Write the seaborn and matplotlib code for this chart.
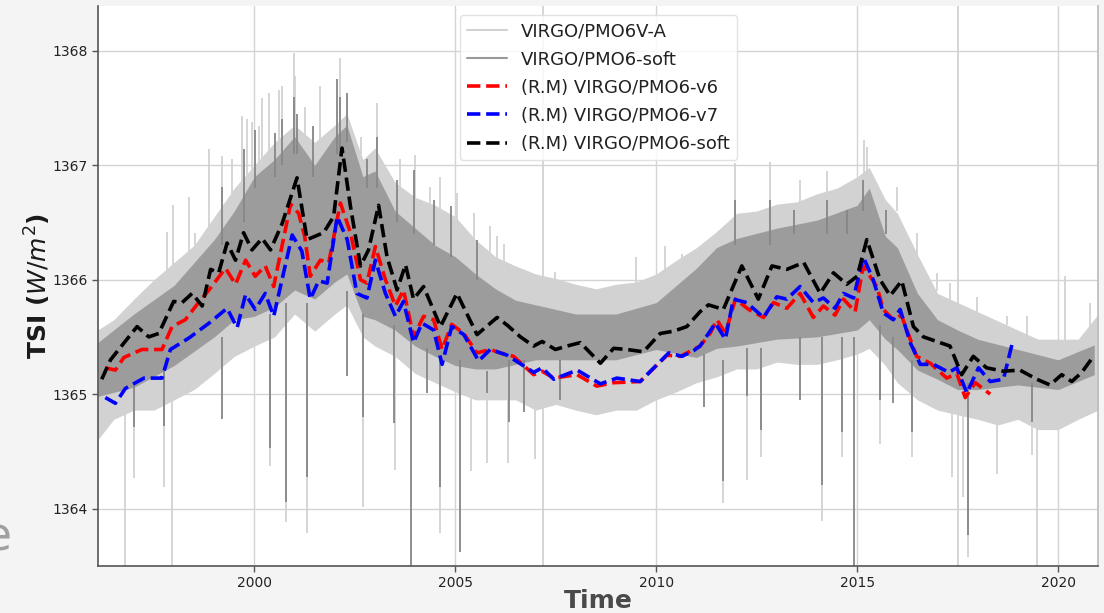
import matplotlib
matplotlib.use("Agg")
import matplotlib.pyplot as plt
from matplotlib.lines import Line2D
import seaborn as sns

# --- VIRGO/PMO6V-A daily TSI: dense envelope (lower / upper) -------------
va_years = [1996.1, 1996.5, 1997.0, 1997.5, 1998.0, 1998.5, 1999.0, 1999.5,
            2000.0, 2000.5, 2001.0, 2001.5, 2002.0, 2002.3, 2002.7, 2003.0,
            2003.5, 2004.0, 2004.5, 2005.0, 2005.5, 2006.0, 2006.5, 2007.0,
            2007.5, 2008.0, 2008.5, 2009.0, 2009.5, 2010.0, 2010.5, 2011.0,
            2011.5, 2012.0, 2012.5, 2013.0, 2013.5, 2014.0, 2014.5, 2015.0,
            2015.3, 2015.7, 2016.0, 2016.5, 2017.0, 2017.5, 2018.0, 2018.5,
            2019.0, 2019.5, 2020.0, 2020.5, 2021.0]
va_upper = [1365.56, 1365.65, 1365.83, 1366.00, 1366.15, 1366.30, 1366.55, 1366.80,
            1367.00, 1367.20, 1367.35, 1367.20, 1367.35, 1367.45, 1367.05, 1367.15,
            1366.85, 1366.72, 1366.65, 1366.55, 1366.35, 1366.20, 1366.12, 1366.05,
            1366.01, 1365.96, 1365.92, 1365.96, 1365.98, 1366.05, 1366.17, 1366.28,
            1366.42, 1366.58, 1366.60, 1366.66, 1366.68, 1366.75, 1366.80, 1366.90,
            1366.98, 1366.70, 1366.58, 1366.22, 1365.88, 1365.80, 1365.72, 1365.64,
            1365.56, 1365.48, 1365.48, 1365.48, 1365.70]
va_lower = [1364.60, 1364.78, 1364.86, 1364.86, 1364.95, 1365.04, 1365.18, 1365.33,
            1365.42, 1365.50, 1365.70, 1365.55, 1365.70, 1365.78, 1365.50, 1365.42,
            1365.33, 1365.18, 1365.10, 1365.02, 1364.95, 1364.95, 1364.95, 1364.86,
            1364.91, 1364.86, 1364.82, 1364.86, 1364.86, 1364.95, 1365.02, 1365.10,
            1365.15, 1365.22, 1365.22, 1365.28, 1365.26, 1365.26, 1365.30, 1365.35,
            1365.40, 1365.25, 1365.10, 1364.95, 1364.86, 1364.82, 1364.78, 1364.73,
            1364.78, 1364.69, 1364.69, 1364.78, 1364.86]

# --- VIRGO/PMO6-soft daily TSI: dense envelope ------------------------------
soft_years = [1996.1, 1997.0, 1998.0, 1999.0, 1999.5, 2000.0, 2000.5, 2001.0,
              2001.5, 2002.0, 2002.3, 2002.7, 2003.0, 2003.5, 2004.0, 2004.5,
              2005.0, 2005.5, 2006.0, 2006.5, 2007.0, 2008.0, 2009.0, 2010.0,
              2011.0, 2011.5, 2012.0, 2013.0, 2014.0, 2015.0, 2015.3, 2015.7,
              2016.0, 2016.5, 2017.0, 2017.5, 2018.0, 2019.0, 2020.0, 2020.9]
soft_upper = [1365.45, 1365.70, 1365.95, 1366.35, 1366.60, 1366.90, 1367.05, 1367.25,
              1367.00, 1367.25, 1367.35, 1366.90, 1366.95, 1366.60, 1366.45, 1366.30,
              1366.20, 1366.05, 1365.92, 1365.82, 1365.78, 1365.70, 1365.70, 1365.80,
              1366.10, 1366.28, 1366.36, 1366.45, 1366.52, 1366.65, 1366.80, 1366.38,
              1366.28, 1365.88, 1365.65, 1365.56, 1365.48, 1365.39, 1365.30, 1365.43]
soft_lower = [1364.98, 1365.06, 1365.25, 1365.50, 1365.65, 1365.68, 1365.76, 1365.91,
              1365.83, 1365.98, 1366.05, 1365.68, 1365.65, 1365.56, 1365.42, 1365.33,
              1365.25, 1365.22, 1365.22, 1365.26, 1365.30, 1365.30, 1365.30, 1365.39,
              1365.32, 1365.40, 1365.42, 1365.48, 1365.50, 1365.56, 1365.65, 1365.48,
              1365.39, 1365.21, 1365.13, 1365.04, 1365.04, 1365.08, 1365.04, 1365.17]

# --- isolated excursions of the daily series (year, low, high) -----------------
va_spike_year = [1996.77, 1997.00, 1997.74, 1997.96, 2000.40, 2000.79, 2001.31, 2002.69,
                 2003.50, 2004.63, 2005.38, 2005.78, 2006.32, 2006.99, 2007.18, 2011.66,
                 2012.27, 2012.60, 2014.12, 2014.62, 2015.57, 2016.36, 2017.35, 2017.51,
                 2017.64, 2017.75, 2018.47, 2019.36, 2019.47,
                 1997.83, 1997.98, 1998.37, 1998.53, 1998.87, 1999.20, 1999.45, 1999.70,
                 1999.82, 1999.94, 2000.11, 2000.20, 2000.36, 2000.60, 2000.69, 2000.98,
                 2001.02, 2001.27, 2001.64, 2002.14, 2002.64, 2003.05, 2003.63, 2004.00,
                 2004.38, 2004.63, 2005.04, 2005.46, 2005.87, 2006.04, 2006.20, 2006.45,
                 2007.49, 2009.50, 2010.22, 2010.64, 2011.26, 2011.97, 2012.84, 2013.58,
                 2014.25, 2015.16, 2015.24, 2015.99, 2016.48, 2016.98, 2017.31, 2017.97,
                 2018.72, 2019.22, 2020.17, 2020.80]
va_spike_low = [1363.0, 1364.27, 1364.19, 1363.0, 1364.37, 1363.88, 1363.79, 1364.01,
                1364.34, 1363.79, 1364.33, 1364.40, 1364.40, 1364.43, 1362.0, 1364.05,
                1364.25, 1364.45, 1363.89, 1364.45, 1364.56, 1364.45, 1364.28, 1362.0,
                1364.10, 1363.58, 1364.30, 1364.47, 1363.0,
                1366.0, 1366.1, 1366.2, 1366.2, 1366.4, 1366.5, 1366.7, 1366.8,
                1366.9, 1366.9, 1366.9, 1367.0, 1367.1, 1367.1, 1367.2, 1367.3,
                1367.3, 1367.2, 1367.2, 1367.3, 1367.1, 1367.1, 1366.8, 1366.7,
                1366.6, 1366.6, 1366.5, 1366.3, 1366.2, 1366.1, 1366.1, 1366.1,
                1366.0, 1365.9, 1366.0, 1366.1, 1366.2, 1366.5, 1366.6, 1366.6,
                1366.7, 1366.9, 1366.9, 1366.6, 1366.2, 1365.9, 1365.8, 1365.7,
                1365.6, 1365.5, 1365.4, 1365.5]
va_spike_high = [1365.0, 1365.0, 1365.1, 1365.1, 1365.6, 1365.7, 1365.7, 1365.6,
                 1365.4, 1365.2, 1365.0, 1365.0, 1365.0, 1364.9, 1370.0, 1365.2,
                 1365.3, 1365.3, 1365.3, 1365.4, 1365.4, 1365.0, 1364.9, 1370.0,
                 1364.9, 1364.9, 1364.8, 1364.8, 1364.7,
                 1366.42, 1366.65, 1366.72, 1366.41, 1367.14, 1367.08, 1367.05, 1367.43,
                 1367.40, 1367.38, 1367.34, 1367.59, 1367.63, 1367.66, 1367.69, 1367.98,
                 1367.78, 1367.51, 1367.69, 1367.94, 1367.25, 1367.54, 1367.05, 1367.09,
                 1366.81, 1366.90, 1366.76, 1366.58, 1366.47, 1366.38, 1366.31, 1366.12,
                 1366.07, 1366.20, 1366.29, 1366.22, 1366.29, 1367.02, 1367.03, 1366.87,
                 1366.95, 1367.22, 1367.16, 1366.81, 1366.41, 1366.06, 1365.97, 1365.85,
                 1365.68, 1365.68, 1366.03, 1365.80]

soft_spike_year = [1997.00, 1997.74, 1999.20, 2000.40, 2000.79, 2001.31, 2002.31, 2002.69,
                   2003.47, 2003.90, 2004.30, 2004.63, 2005.12, 2005.79, 2006.33, 2006.70,
                   2007.61, 2011.18, 2011.66, 2012.25, 2012.60, 2013.58, 2014.12, 2014.62,
                   2014.91, 2015.57, 2015.90, 2016.36, 2017.75, 2019.36,
                   1999.20, 1999.73, 2000.02, 2000.52, 2000.69, 2000.98, 2001.05, 2001.47,
                   2002.06, 2002.14, 2002.31, 2002.80, 2003.05, 2003.55, 2003.96, 2004.46,
                   2004.88, 2005.54, 2011.97, 2012.84, 2013.42, 2014.25, 2014.74, 2015.15,
                   2015.73]
soft_spike_low = [1364.71, 1364.72, 1364.78, 1364.53, 1364.06, 1364.28, 1365.16, 1364.80,
                  1364.75, 1363.0, 1365.01, 1364.19, 1363.62, 1365.01, 1364.76, 1364.84,
                  1364.95, 1364.89, 1364.24, 1364.98, 1364.69, 1364.95, 1364.21, 1364.67,
                  1363.0, 1364.95, 1364.92, 1364.67, 1363.77, 1364.76,
                  1366.3, 1366.5, 1366.8, 1366.9, 1367.0, 1367.1, 1367.1, 1366.9,
                  1367.1, 1367.1, 1367.2, 1366.8, 1366.8, 1366.5, 1366.4, 1366.3,
                  1366.2, 1366.0, 1366.3, 1366.3, 1366.4, 1366.4, 1366.4, 1366.6,
                  1366.4]
soft_spike_high = [1365.1, 1365.2, 1365.5, 1365.7, 1365.8, 1365.8, 1365.9, 1365.7,
                   1365.6, 1365.5, 1365.4, 1365.3, 1365.3, 1365.2, 1365.3, 1365.3,
                   1365.3, 1365.35, 1365.3, 1365.4, 1365.4, 1365.5, 1365.5, 1365.5,
                   1365.5, 1365.6, 1365.5, 1365.3, 1365.1, 1365.1,
                   1366.81, 1367.14, 1367.31, 1367.28, 1367.40, 1367.60, 1367.45, 1367.34,
                   1367.75, 1367.60, 1367.63, 1367.05, 1367.25, 1366.87, 1366.96, 1366.70,
                   1366.64, 1366.35, 1366.70, 1366.70, 1366.61, 1366.70, 1366.61, 1366.87,
                   1366.61]

# --- running means -------------------------------------------------------------
rm_v6_year = [1996.29, 1996.54, 1996.75, 1997.20, 1997.70, 1997.95, 1998.28, 1998.61,
              1998.87, 1999.28, 1999.53, 1999.78, 2000.02, 2000.27, 2000.48, 2000.90,
              2001.10, 2001.25, 2001.39, 2001.64, 2001.85, 2002.14, 2002.39, 2002.64,
              2002.80, 2003.01, 2003.26, 2003.51, 2003.71, 2003.96, 2004.21, 2004.46,
              2004.67, 2004.91, 2005.21, 2005.54, 2005.87, 2006.12, 2006.45, 2006.95,
              2007.16, 2007.45, 2008.03, 2008.52, 2008.94, 2009.60, 2010.27, 2010.60,
              2010.93, 2011.09, 2011.34, 2011.51, 2011.72, 2011.97, 2012.30, 2012.67,
              2012.92, 2013.25, 2013.58, 2013.91, 2014.16, 2014.45, 2014.66, 2014.95,
              2015.15, 2015.49, 2015.65, 2015.90, 2016.10, 2016.48, 2016.82, 2017.23,
              2017.48, 2017.69, 2017.94, 2018.31]
rm_v6_tsi = [1365.23, 1365.21, 1365.32, 1365.39, 1365.39, 1365.59, 1365.65, 1365.80,
             1365.91, 1366.10, 1365.96, 1366.17, 1366.03, 1366.12, 1365.94, 1366.66,
             1366.58, 1366.38, 1366.03, 1366.17, 1366.15, 1366.67, 1366.41, 1366.00,
             1365.97, 1366.29, 1366.00, 1365.77, 1365.91, 1365.50, 1365.68, 1365.65,
             1365.39, 1365.61, 1365.53, 1365.36, 1365.39, 1365.36, 1365.33, 1365.17,
             1365.20, 1365.14, 1365.17, 1365.07, 1365.10, 1365.11, 1365.34, 1365.33,
             1365.39, 1365.42, 1365.53, 1365.65, 1365.53, 1365.83, 1365.74, 1365.67,
             1365.80, 1365.75, 1365.88, 1365.67, 1365.77, 1365.69, 1365.83, 1365.72,
             1366.12, 1365.94, 1365.74, 1365.65, 1365.69, 1365.33, 1365.27, 1365.14,
             1365.18, 1364.97, 1365.10, 1365.00]

rm_v7_year = [1996.29, 1996.54, 1996.79, 1997.25, 1997.70, 1997.91, 1998.37, 1998.87,
              1999.32, 1999.57, 1999.78, 2000.02, 2000.27, 2000.48, 2000.94, 2001.18,
              2001.39, 2001.60, 2001.81, 2002.06, 2002.31, 2002.55, 2002.80, 2003.01,
              2003.26, 2003.51, 2003.71, 2003.96, 2004.17, 2004.46, 2004.67, 2004.91,
              2005.21, 2005.58, 2005.87, 2006.29, 2006.95, 2007.16, 2007.45, 2008.03,
              2008.61, 2009.02, 2009.60, 2010.31, 2010.64, 2010.93, 2011.09, 2011.47,
              2011.72, 2011.92, 2012.25, 2012.67, 2013.00, 2013.25, 2013.58, 2013.91,
              2014.16, 2014.45, 2014.66, 2014.91, 2015.15, 2015.40, 2015.65, 2015.90,
              2016.07, 2016.32, 2016.57, 2016.90, 2017.28, 2017.48, 2017.73, 2018.02,
              2018.31, 2018.64, 2018.85]
rm_v7_tsi = [1364.97, 1364.92, 1365.05, 1365.14, 1365.14, 1365.39, 1365.49, 1365.62,
             1365.75, 1365.58, 1365.87, 1365.74, 1365.88, 1365.68, 1366.39, 1366.25,
             1365.83, 1365.99, 1365.97, 1366.55, 1366.35, 1365.88, 1365.84, 1366.17,
             1365.88, 1365.68, 1365.81, 1365.45, 1365.62, 1365.56, 1365.26, 1365.59,
             1365.52, 1365.29, 1365.39, 1365.34, 1365.19, 1365.23, 1365.13, 1365.21,
             1365.09, 1365.14, 1365.11, 1365.36, 1365.33, 1365.38, 1365.42, 1365.62,
             1365.48, 1365.83, 1365.80, 1365.67, 1365.85, 1365.83, 1365.94, 1365.80,
             1365.84, 1365.75, 1365.88, 1365.84, 1366.20, 1366.00, 1365.71, 1365.65,
             1365.74, 1365.45, 1365.26, 1365.26, 1365.19, 1365.23, 1365.01, 1365.23,
             1365.11, 1365.13, 1365.43]

rm_soft_year = [1996.20, 1996.42, 1996.67, 1997.08, 1997.37, 1997.62, 1997.99, 1998.20,
                1998.45, 1998.70, 1998.91, 1999.11, 1999.32, 1999.53, 1999.73, 1999.94,
                2000.19, 2000.40, 2000.69, 2001.06, 2001.31, 2001.72, 2001.97, 2002.18,
                2002.39, 2002.64, 2002.84, 2003.09, 2003.30, 2003.55, 2003.76, 2003.96,
                2004.21, 2004.63, 2005.04, 2005.54, 2006.04, 2006.30, 2006.62, 2006.95,
                2007.16, 2007.49, 2007.78, 2008.11, 2008.61, 2008.94, 2009.27, 2009.68,
                2010.10, 2010.43, 2010.76, 2011.09, 2011.30, 2011.67, 2012.13, 2012.54,
                2012.88, 2013.25, 2013.67, 2014.08, 2014.41, 2014.74, 2015.00, 2015.24,
                2015.57, 2015.82, 2016.11, 2016.40, 2016.65, 2016.98, 2017.31, 2017.60,
                2017.89, 2018.22, 2018.64, 2019.05, 2019.47, 2019.80, 2020.09, 2020.34,
                2020.59, 2020.88]
rm_soft_tsi = [1365.13, 1365.30, 1365.41, 1365.59, 1365.50, 1365.53, 1365.81, 1365.80,
               1365.88, 1365.77, 1366.09, 1366.06, 1366.32, 1366.17, 1366.41, 1366.26,
               1366.36, 1366.26, 1366.49, 1366.89, 1366.35, 1366.41, 1366.55, 1367.15,
               1366.64, 1366.12, 1366.26, 1366.65, 1366.20, 1365.91, 1366.13, 1365.83,
               1365.94, 1365.59, 1365.88, 1365.52, 1365.67, 1365.60, 1365.50, 1365.42,
               1365.46, 1365.39, 1365.42, 1365.45, 1365.27, 1365.40, 1365.39, 1365.37,
               1365.53, 1365.55, 1365.59, 1365.72, 1365.78, 1365.74, 1366.12, 1365.83,
               1366.12, 1366.09, 1366.15, 1365.88, 1366.06, 1365.96, 1366.03, 1366.35,
               1366.00, 1365.86, 1365.99, 1365.59, 1365.50, 1365.46, 1365.42, 1365.17,
               1365.33, 1365.23, 1365.20, 1365.21, 1365.13, 1365.08, 1365.17, 1365.11,
               1365.19, 1365.33]

year_ticks = [2000, 2005, 2010, 2015, 2020]
tsi_ticks = [1364, 1365, 1366, 1367, 1368]

LIGHT = "#d2d2d2"
DARK = "#868686"

sns.set_theme(style="whitegrid")
plt.rcParams["font.family"] = ["DejaVu Sans"]

fig = plt.figure(figsize=(11.04, 6.13), dpi=100, facecolor="#f4f4f4")
ax = fig.add_axes([0.0885, 0.077, 0.9063, 0.913])
ax.set_facecolor("white")

# daily series
ax.fill_between(va_years, va_lower, va_upper, color=LIGHT, lw=0, zorder=1)
ax.vlines(va_spike_year, va_spike_low, va_spike_high, color=LIGHT, lw=1.3, zorder=1)
ax.fill_between(soft_years, soft_lower, soft_upper, color=DARK, alpha=0.7, lw=0, zorder=2)
ax.vlines(soft_spike_year, soft_spike_low, soft_spike_high, color=DARK, lw=1.3, zorder=2)

# running means
dash_kw = dict(linestyle="--", linewidth=2.6, ax=ax, zorder=4)
sns.lineplot(x=rm_v6_year, y=rm_v6_tsi, color="#ff0000", **dash_kw)
sns.lineplot(x=rm_v7_year, y=rm_v7_tsi, color="#0000ff", **dash_kw)
sns.lineplot(x=rm_soft_year, y=rm_soft_tsi, color="black", **dash_kw)

ax.set_xlim(1996.1, 2021.0)
ax.set_ylim(1363.5, 1368.39)
ax.set_xticks(year_ticks)
ax.set_yticks(tsi_ticks)
ax.ticklabel_format(useOffset=False, style="plain")
ax.grid(True, color="#d4d4d4", linewidth=1.0)
ax.tick_params(axis="both", which="major", labelsize=10, length=4, width=1,
               color="#555555", labelcolor="#222222", left=True, bottom=True, pad=3)

for side in ("left", "bottom"):
    ax.spines[side].set_color("#555555")
    ax.spines[side].set_linewidth(1.2)
ax.spines["right"].set_color("#bdbdbd")
ax.spines["top"].set_visible(False)

ax.set_ylabel(r"TSI ($W/m^2$)", fontsize=18, fontweight="bold", color="#1a1a1a")
ax.yaxis.set_label_coords(-0.045, 0.5)
ax.set_xlabel("Time", fontsize=18, fontweight="bold", color="#4a4a4a")
ax.xaxis.set_label_coords(0.5, -0.042)

handles = [
    Line2D([], [], color=LIGHT, lw=1.5),
    Line2D([], [], color="#999999", lw=1.5),
    Line2D([], [], color="#ff0000", lw=2.6, linestyle="--"),
    Line2D([], [], color="#0000ff", lw=2.6, linestyle="--"),
    Line2D([], [], color="black", lw=2.6, linestyle="--"),
]
labels = ["VIRGO/PMO6V-A", "VIRGO/PMO6-soft", "(R.M) VIRGO/PMO6-v6",
          "(R.M) VIRGO/PMO6-v7", "(R.M) VIRGO/PMO6-soft"]
leg = ax.legend(handles, labels, loc="upper center", bbox_to_anchor=(0.5005, 1.0),
                fontsize=13, frameon=True, framealpha=0.85, edgecolor="#dddddd",
                handlelength=2.2, labelcolor="#222222", labelspacing=0.56)
leg.set_zorder(6)

fig.text(-0.016, 0.085, "e", fontsize=34, color="#a0a0a0", ha="left", va="bottom")

fig.savefig("out.png", dpi=100, facecolor=fig.get_facecolor())
